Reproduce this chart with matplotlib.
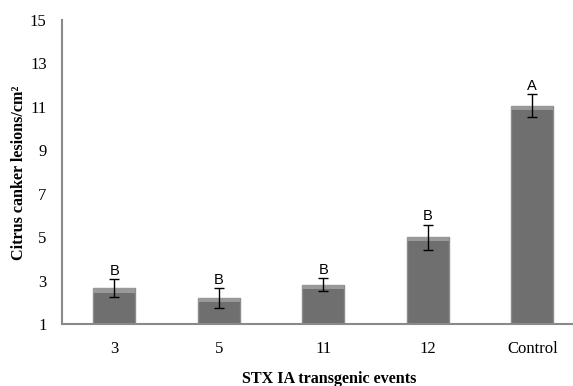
import matplotlib
matplotlib.use("Agg")
import matplotlib.pyplot as plt
import numpy as np

categories = ["3", "5", "11", "12", "Control"]
values = [2.65, 2.2, 2.8, 5.0, 11.05]
errors = [0.4, 0.45, 0.3, 0.58, 0.52]
letters = ["B", "B", "B", "B", "A"]
yticks = [1, 3, 5, 7, 9, 11, 13, 15]

fig = plt.figure(figsize=(5.73, 3.86), dpi=100)
ax = fig.add_axes([62/573, 1-324/386, 1-62/573, (324-20)/386])

x = np.arange(len(categories))
bars = ax.bar(x, np.array(values) - 1, bottom=1, width=0.4, color="#6f6f6f",
              edgecolor="#8c8c8c", linewidth=1.0, zorder=2)
# lighter bevel on top of each bar
for b in bars:
    bx, bw = b.get_x(), b.get_width()
    top = b.get_y() + b.get_height()
    ax.fill_between([bx, bx + bw], top - 0.2, top, color="#999999", zorder=3, linewidth=0)

ax.errorbar(x, values, yerr=errors, fmt="none", ecolor="black", elinewidth=1.0,
            capsize=3.5, capthick=1.0, zorder=4)
for xi, v, e, l in zip(x, values, errors, letters):
    ax.text(xi, v + e + 0.05, l, ha="center", va="bottom", fontsize=10.5,
            family="Liberation Sans", zorder=5)

ax.set_xlim(-0.5, -0.5 + 511/104.5)
ax.set_ylim(1, 15)
ax.set_yticks(yticks)
ax.set_xticks(x)
ax.set_xticklabels(categories)
for lab in ax.get_xticklabels() + ax.get_yticklabels():
    lab.set_family("Liberation Serif")
    lab.set_fontsize(12)
ax.tick_params(axis="both", length=0)
ax.tick_params(axis="y", pad=11)
ax.tick_params(axis="x", pad=12)
for s in ["top", "right"]:
    ax.spines[s].set_visible(False)
for s in ["left", "bottom"]:
    ax.spines[s].set_color("#8a8a8a")
    ax.spines[s].set_linewidth(1.5)

fig.text(19/573, 1-173/386, "Citrus canker lesions/cm²", rotation=90, ha="center", va="center",
         family="Liberation Serif", fontweight="bold", fontsize=11.6)
fig.text(329/573, 1-379/386, "STX IA transgenic events", ha="center", va="center",
         family="Liberation Serif", fontweight="bold", fontsize=11.6)

fig.savefig("out.png", dpi=100)
